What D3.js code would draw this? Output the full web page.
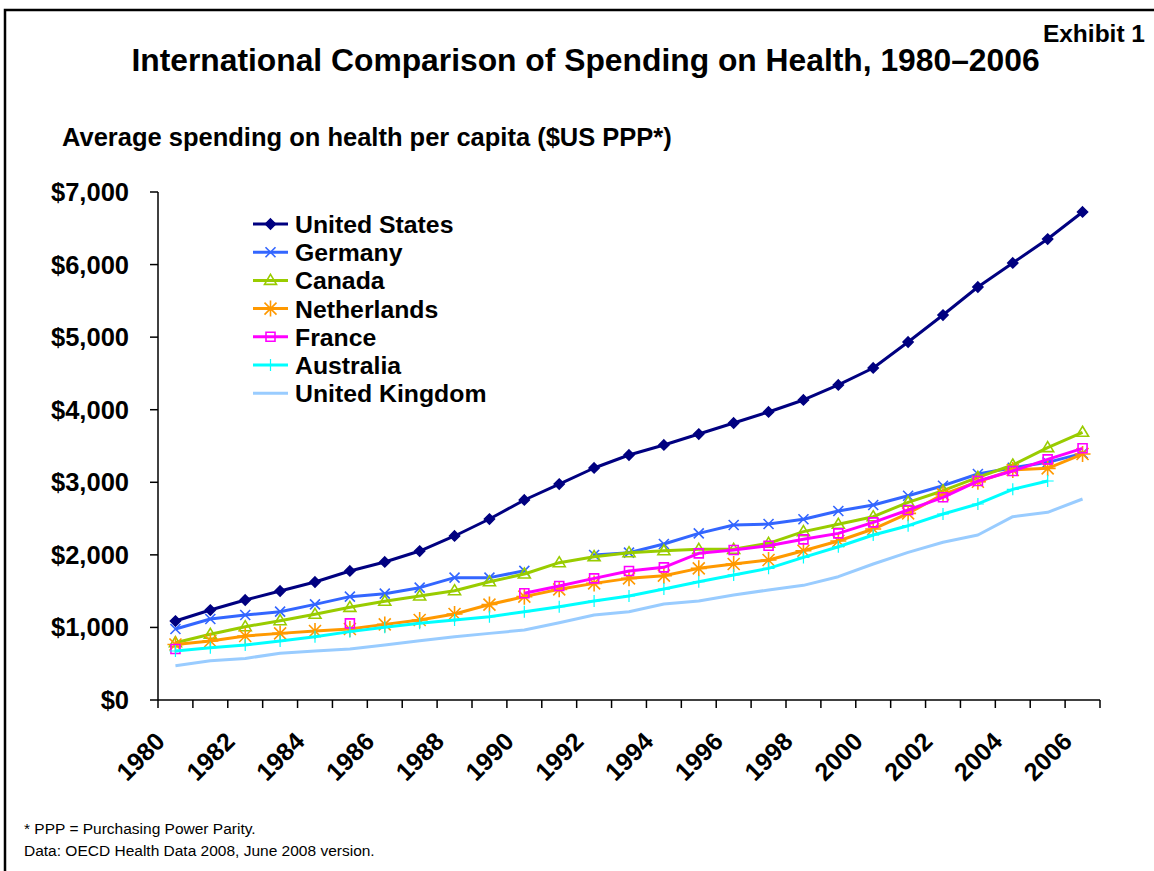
<!DOCTYPE html>
<html>
<head>
<meta charset="utf-8">
<script src="https://cdn.jsdelivr.net/npm/d3@7/dist/d3.min.js"></script>
<style>
  body { margin: 0; background: #fff; }
  text { font-family: "Liberation Sans", Arial, sans-serif; }
</style>
</head>
<body>
<svg id="chart" width="1154" height="871"></svg>
<script>
// years on the category axis
const years = d3.range(1980, 2007);
const tickYears = years.filter(y => y % 2 === 0);
const yTicks = [0, 1000, 2000, 3000, 4000, 5000, 6000, 7000];

// spending per capita, $US PPP (null = no data)
const unitedStates = [1088, 1240, 1378, 1502, 1626, 1778, 1902, 2053, 2260, 2494, 2756, 2976, 3197, 3376, 3514, 3665, 3817, 3969, 4134, 4341, 4575, 4933, 5305, 5691, 6022, 6352, 6725];
const germany = [978, 1116, 1171, 1217, 1318, 1424, 1465, 1548, 1686, 1686, 1780, null, 1998, 2030, 2150, 2296, 2411, 2425, 2490, 2604, 2687, 2815, 2953, 3114, 3201, 3275, 3399];
const canada = [790, 905, 1010, 1093, 1181, 1277, 1360, 1433, 1506, 1630, 1736, 1892, 1975, 2030, 2057, 2076, 2076, 2159, 2320, 2421, 2526, 2724, 2884, 3068, 3238, 3477, 3689];
const netherlands = [765, 813, 882, 918, 950, 978, 1042, 1102, 1185, 1315, 1424, 1525, 1607, 1676, 1713, 1814, 1874, 1929, 2057, 2191, 2356, 2572, 2834, 3008, 3169, 3192, 3389];
const france = [703, null, null, null, null, 1056, null, null, null, null, 1470, 1571, 1676, 1777, 1828, 2021, 2067, 2126, 2214, 2296, 2448, 2618, 2793, 3017, 3155, 3316, 3468];
const australia = [675, 721, 758, 813, 873, 942, 1001, 1056, 1102, 1148, 1217, 1286, 1364, 1433, 1529, 1630, 1723, 1814, 1965, 2112, 2274, 2402, 2563, 2701, 2903, 3018, null];
const unitedKingdom = [473, 542, 573, 643, 675, 703, 758, 817, 873, 918, 964, 1065, 1171, 1217, 1323, 1364, 1447, 1516, 1580, 1699, 1874, 2035, 2173, 2274, 2526, 2586, 2770];

const seriesNames = ["United States", "Germany", "Canada", "Netherlands", "France", "Australia", "United Kingdom"];
const seriesValues = [unitedStates, germany, canada, netherlands, france, australia, unitedKingdom];
const seriesColors = ["#000080", "#3366FF", "#99CC00", "#FF9900", "#FF00FF", "#00FFFF", "#99CCFF"];
const seriesMarkers = ["diamond", "x", "triangle", "star", "square", "plus", "none"];

const svg = d3.select("#chart");

// outer frame (left and top edges only show)
svg.append("path")
    .attr("d", "M5,871V10H1154")
    .attr("fill", "none")
    .attr("stroke", "#000")
    .attr("stroke-width", 2.5);

// titles
svg.append("text")
    .attr("x", 585.5).attr("y", 71)
    .attr("text-anchor", "middle")
    .style("font-size", "31.8px").style("font-weight", "bold")
    .text("International Comparison of Spending on Health, 1980\u20132006");
svg.append("text")
    .attr("x", 1145).attr("y", 42)
    .attr("text-anchor", "end")
    .style("font-size", "24.5px").style("font-weight", "bold")
    .text("Exhibit 1");
svg.append("text")
    .attr("x", 62).attr("y", 146)
    .style("font-size", "25.5px").style("font-weight", "bold")
    .text("Average spending on health per capita ($US PPP*)");

// scales
const x = d3.scaleBand().domain(years).range([158, 1100]).padding(0);
const cx = yr => x(yr) + x.bandwidth() / 2;
const y = d3.scaleLinear().domain([0, 7000]).range([700, 192]);

// y axis
const yAxis = svg.append("g");
yAxis.append("line")
    .attr("x1", 158).attr("x2", 158)
    .attr("y1", y(7000)).attr("y2", y(0))
    .attr("stroke", "#000").attr("stroke-width", 1.5);
yAxis.selectAll(".ytick").data(yTicks).enter().append("line")
    .attr("x1", 150).attr("x2", 158)
    .attr("y1", d => y(d)).attr("y2", d => y(d))
    .attr("stroke", "#000").attr("stroke-width", 1.5);
yAxis.selectAll(".ylab").data(yTicks).enter().append("text")
    .attr("x", 129).attr("y", d => y(d) + 9)
    .attr("text-anchor", "end")
    .style("font-size", "25.5px").style("font-weight", "bold")
    .text(d => "$" + d3.format(",")(d));

// x axis
const xAxis = svg.append("g");
xAxis.append("line")
    .attr("x1", 158).attr("x2", 1100)
    .attr("y1", 700).attr("y2", 700)
    .attr("stroke", "#000").attr("stroke-width", 1.5);
xAxis.selectAll(".xtick").data(years.concat([2007])).enter().append("line")
    .attr("x1", d => d === 2007 ? 1100 : x(d))
    .attr("x2", d => d === 2007 ? 1100 : x(d))
    .attr("y1", 700).attr("y2", 708)
    .attr("stroke", "#000").attr("stroke-width", 1.5);
xAxis.selectAll(".xlab").data(tickYears).enter().append("text")
    .attr("transform", d => "translate(" + (cx(d) - 9) + ",743) rotate(-45)")
    .attr("text-anchor", "end")
    .style("font-size", "25px").style("font-weight", "bold")
    .text(d => d);

// marker shapes centred on 0,0
function markerPath(type) {
    switch (type) {
        case "diamond": return "M0,-5L5,0L0,5L-5,0Z";
        case "x": return "M-5,-5L5,5M-5,5L5,-5";
        case "triangle": return "M0,-6L6,4L-6,4Z";
        case "star": return "M-8,0H8M0,-8V8M-6,-6L6,6M-6,6L6,-6";
        case "square": return "M-4.5,-4.5H4.5V4.5H-4.5Z";
        case "plus": return "M-6,0H6M0,-6V6";
        default: return "";
    }
}

function drawMarker(g, type, color) {
    if (type === "none") return;
    const filled = type === "diamond";
    g.append("path")
        .attr("d", markerPath(type))
        .attr("fill", filled ? color : "none")
        .attr("stroke", color)
        .attr("stroke-width", type === "plus" ? 1.2 : 1.6);
}

// series lines and markers
const line = d3.line()
    .defined(d => d.v !== null)
    .x(d => cx(d.year))
    .y(d => y(d.v));

seriesValues.forEach(function (vals, i) {
    const pts = vals.map((v, j) => ({year: years[j], v: v}));
    const g = svg.append("g");
    g.append("path")
        .datum(pts)
        .attr("d", line)
        .attr("fill", "none")
        .attr("stroke", seriesColors[i])
        .attr("stroke-width", 3)
        .attr("stroke-linejoin", "round");
    pts.filter(d => d.v !== null).forEach(function (d) {
        const m = g.append("g").attr("transform", "translate(" + cx(d.year) + "," + y(d.v) + ")");
        drawMarker(m, seriesMarkers[i], seriesColors[i]);
    });
});

// legend
const legend = svg.append("g");
seriesNames.forEach(function (name, i) {
    const ly = 224 + i * 28.2;
    legend.append("line")
        .attr("x1", 253).attr("x2", 288)
        .attr("y1", ly).attr("y2", ly)
        .attr("stroke", seriesColors[i]).attr("stroke-width", 3);
    const m = legend.append("g").attr("transform", "translate(270.5," + ly + ")");
    drawMarker(m, seriesMarkers[i], seriesColors[i]);
    legend.append("text")
        .attr("x", 295).attr("y", ly + 9)
        .style("font-size", "24.8px").style("font-weight", "bold")
        .text(name);
});

// footnotes
svg.append("text")
    .attr("x", 24).attr("y", 834)
    .style("font-size", "15.5px")
    .text("* PPP = Purchasing Power Parity.");
svg.append("text")
    .attr("x", 24).attr("y", 856)
    .style("font-size", "15.5px")
    .text("Data: OECD Health Data 2008, June 2008 version.");
</script>
</body>
</html>
